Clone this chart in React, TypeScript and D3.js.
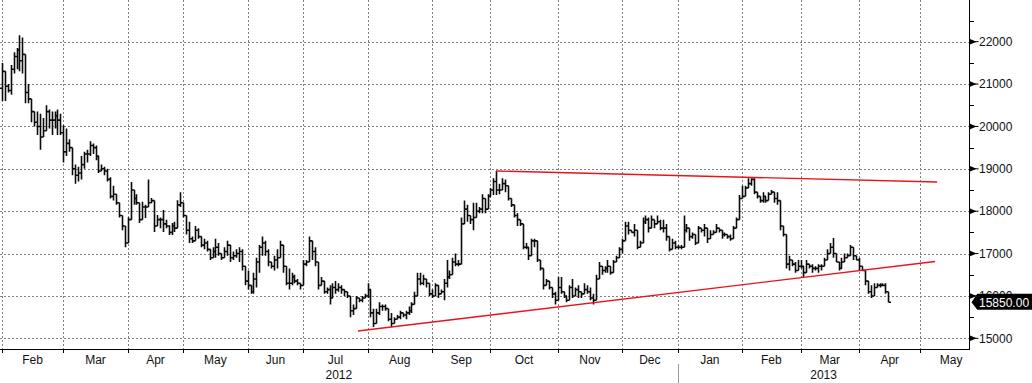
import React from "react";
import * as d3 from "d3";

// Daily bars, first trading day 2012-02-01 (London calendar)
const HIGHS = [
  21500,21150,21000,21450,21750,21850,22150,22100,21150,21000,20550,20200,20350,20300,20200,20500,20400,20350,20350,20400,20300,
  20030,19950,19700,19250,19100,19050,19300,19400,19450,19650,19600,19550,19300,19100,19050,19000,18800,18600,18350,18150,17800,17600,
  17860,18690,18440,18400,17860,18220,18150,18750,18310,18030,17910,17850,18030,17800,17670,17720,17750,18260,18450,
  18100,17900,17750,17400,17650,17600,17400,17350,17300,17050,17150,17350,17250,17000,17150,17300,17200,17050,17100,17150,17100,16700,
  16600,16250,16550,16900,17200,17400,17300,17100,16800,16950,17100,17300,17000,16650,16650,16550,16500,16400,16300,
  16850,16850,17400,17200,17150,16450,16450,16200,16200,16250,16300,16350,16300,16250,16150,16100,15950,15800,16000,15950,16000,16050,
  16300,15900,15700,15700,15850,15800,15800,15650,15600,15500,15550,15650,15600,15650,15750,15850,16100,16550,16550,16500,16400,16200,
  16150,16300,16200,16150,16400,16850,16600,16900,17000,16850,17850,18250,18150,17900,18200,18200,18100,18400,18300,18400,
  18550,18780,18950,18650,18780,18750,18350,18300,18100,17950,17750,17350,17250,17150,17350,17350,17000,16750,16450,16400,16300,16150,16100,
  16450,16450,16050,16000,16250,16400,16200,16250,16100,16300,16250,16200,16050,16500,16800,16700,16700,16850,16650,16850,16950,17150,
  17350,17750,17750,17550,17700,17300,17300,17850,17900,17850,17900,17800,17900,17800,17800,17700,17350,17350,
  17300,17200,17200,17900,17700,17500,17500,17400,17650,17600,17700,17500,17550,17550,17700,17600,17550,17500,17450,17450,17650,17850,
  18380,18600,18600,18780,18780,18780,18450,18300,18450,18350,18450,18500,18450,18450,18000,17550,17050,16950,16850,16800,
  16850,16850,16700,16850,16750,16750,16700,16750,16750,16900,17100,17250,17370,16850,16700,16900,17000,17000,17200,17150,
  16900,16900,16650,16600,16250,16250,16300,16300,16300,16300,16300,16050,
];
const LOWS = [
  20600,20600,20800,20750,21250,21350,21300,21250,20550,20550,20100,20000,19800,19450,19800,20050,19950,19800,19950,19800,19800,
  19150,19300,19400,18850,18650,18700,18750,19000,19150,19300,19350,19200,18900,18950,18850,18700,18300,18250,18150,17850,17550,17150,
  17270,18150,18150,18150,17720,17800,17840,18100,18190,17510,17670,17600,17510,17600,17440,17440,17510,17670,18100,
  17850,17450,17250,17250,17300,17350,17150,17100,17050,16850,16900,16900,16950,16850,16900,16950,16800,16850,16900,16800,16600,16250,
  16150,16050,16050,16200,16550,16950,16950,16700,16650,16600,16650,16900,16550,16250,16150,16250,16300,16250,16150,
  16600,16700,16800,16850,16700,16150,16250,16050,16050,15800,16100,16050,16100,16050,16000,15950,15500,15550,15850,15850,15850,15950,
  15950,15500,15270,15450,15550,15650,15650,15400,15270,15350,15450,15450,15500,15450,15550,15600,15850,16250,16250,16250,16200,16000,
  15950,16150,15950,16050,15900,16200,16400,16550,16700,16700,17000,17750,17750,17700,17550,17850,17950,17950,17950,18300,
  18400,18380,18380,18400,18500,18450,18250,18100,17850,17650,17650,17100,17100,16850,17100,17150,16800,16600,16150,16250,16150,15950,15800,
  15950,16050,15950,15850,16100,15950,16150,15950,15950,16050,16050,15900,15800,16150,16400,16500,16550,16550,16500,16600,16850,16950,
  17000,17500,17450,17500,17400,17100,17200,17600,17700,17500,17650,17600,17700,17550,17500,17300,17050,17200,
  17100,17100,17100,17500,17500,17300,17350,17200,17500,17500,17400,17250,17350,17450,17550,17500,17350,17400,17350,17300,17400,17600,
  17850,18300,18350,18600,18600,18400,18300,18200,18200,18200,18250,18400,18200,18150,17550,17400,16650,16600,16700,16550,
  16600,16650,16450,16600,16650,16550,16600,16550,16600,16800,16900,17000,16900,16800,16600,16750,16800,16900,17050,16850,
  16850,16600,16600,16250,16050,15950,16100,16200,16200,16250,16050,15850,
];
const CLOSES = [
  21300,20950,20850,21350,21650,21800,21550,21700,20800,20650,20350,20100,20000,19750,19900,20350,20150,20150,20250,20150,19850,
  19400,19600,19500,19000,18850,18900,19100,19350,19350,19550,19500,19300,18950,19000,18950,18750,18350,18400,18200,17900,17650,17250,
  17800,18500,18300,18200,17800,18100,18100,18200,18250,17650,17800,17800,17700,17650,17500,17650,17600,18150,18200,
  17900,17550,17350,17300,17550,17400,17200,17250,17100,16900,17050,17150,17000,16900,17050,17200,16900,16950,17000,17050,16700,16350,
  16250,16100,16400,16800,17150,17250,17050,16800,16700,16850,16900,17200,16700,16300,16300,16450,16350,16300,16250,
  16750,16800,17300,17050,16800,16250,16350,16100,16150,15950,16200,16150,16200,16150,16100,16000,15650,15700,15950,15900,15950,16000,
  16150,15600,15350,15600,15750,15750,15700,15450,15350,15450,15500,15600,15550,15600,15650,15800,16000,16400,16300,16400,16300,16050,
  16000,16250,16050,16100,16300,16450,16500,16800,16750,16750,17700,18050,17900,17800,17850,18000,18050,18300,18050,18350,
  18500,18700,18500,18500,18650,18600,18300,18150,17900,17800,17700,17150,17150,16950,17300,17300,16850,16650,16250,16350,16200,16050,15900,
  16200,16100,16000,15900,16200,16000,16150,16100,16050,16150,16100,15950,15900,16400,16700,16600,16650,16700,16550,16800,16900,17100,
  17300,17650,17550,17500,17550,17150,17250,17750,17800,17600,17800,17700,17750,17600,17600,17400,17100,17250,
  17150,17150,17150,17550,17600,17400,17450,17250,17600,17550,17600,17350,17450,17500,17600,17550,17450,17450,17400,17350,17600,17800,
  18300,18350,18550,18650,18750,18450,18350,18250,18350,18250,18400,18450,18300,18250,17650,17450,16750,16850,16750,16600,
  16700,16700,16550,16750,16700,16650,16650,16700,16700,16850,17000,17150,17000,16800,16650,16800,16900,16950,17150,16950,
  16850,16700,16600,16350,16100,16000,16200,16250,16250,16250,16100,15850,
];
const FIRST_OPEN = 20900;
const LAST_PRICE = 15850;

const Y_TICKS = [15000, 16000, 17000, 18000, 19000, 20000, 21000, 22000];
const Y_MINOR = [15500, 16500, 17500, 18500, 19500, 20500, 21500, 22500];
const MONTH_NAMES = ["Jan", "Feb", "Mar", "Apr", "May", "Jun", "Jul", "Aug", "Sep", "Oct", "Nov", "Dec"];
const UK_HOLIDAYS = [
  "2012-04-06", "2012-04-09", "2012-05-07", "2012-06-04", "2012-06-05", "2012-08-27",
  "2012-12-25", "2012-12-26", "2013-01-01", "2013-03-29", "2013-04-01", "2013-05-06", "2013-05-27",
];
// trend lines: [trading-day index, value] endpoints
const RESISTANCE = [[168.9, 18948], [319.7, 18689]];
const SUPPORT = [[121.7, 15172], [319.0, 16813]];

const W = 1032, H = 383;
const PLOT_R = 969.5, PLOT_B = 349;
const FONT = "'Liberation Sans', Arial, sans-serif";

function tradingDays(start: Date, end: Date): Date[] {
  const hol = new Set(UK_HOLIDAYS);
  const fmt = d3.timeFormat("%Y-%m-%d");
  const out: Date[] = [];
  for (let d = new Date(start); d <= end; d = d3.timeDay.offset(d, 1)) {
    const wd = d.getDay();
    if (wd === 0 || wd === 6) continue;
    if (hol.has(fmt(d))) continue;
    out.push(new Date(d));
  }
  return out;
}

export default function App() {
  const days = tradingDays(new Date(2012, 1, 1), new Date(2013, 6, 31));
  const x = d3.scaleLinear().domain([-0.65, 330.76]).range([0, PLOT_R]);
  const y = d3.scaleLinear().domain([14748, 22984]).range([PLOT_B, 0]);

  const bounds: { i: number; d: Date }[] = [];
  days.forEach((d, i) => {
    if (i === 0 || d.getMonth() !== days[i - 1].getMonth()) bounds.push({ i, d });
  });
  const visibleBounds = bounds.filter((b) => x(b.i) <= PLOT_R);

  let barPath = "";
  CLOSES.forEach((c, i) => {
    const o = i === 0 ? FIRST_OPEN : CLOSES[i - 1];
    const hi = Math.max(HIGHS[i], o, c);
    const lo = Math.min(LOWS[i], o, c);
    const bx = Math.round(x(i)) + 0.5;
    barPath += `M${bx},${y(hi)}V${y(lo)}`;
    barPath += `M${bx - 2.5},${y(o)}H${bx}`;
    barPath += `M${bx},${y(c)}H${bx + 2.5}`;
  });

  const line = d3.line<number[]>().x((p) => x(p[0])).y((p) => y(p[1]));

  const yearStart = bounds.find((b) => b.d.getFullYear() === 2013 && b.d.getMonth() === 0)!;
  const xYear = x(yearStart.i);
  const yLast = y(LAST_PRICE);

  return (
    <svg width={W} height={H} style={{ position: "absolute", left: 0, top: 0, background: "#fff" }} fontFamily={FONT}>
      <rect width={W} height={H} fill="#fff" />
      <g stroke="#808080" strokeWidth={1} strokeDasharray="2,2" shapeRendering="crispEdges">
        {Y_TICKS.map((t) => (
          <line key={t} x1={0} x2={PLOT_R} y1={Math.round(y(t)) + 0.5} y2={Math.round(y(t)) + 0.5} />
        ))}
        {visibleBounds.map((b) => (
          <line key={b.i} x1={Math.round(x(b.i)) + 0.5} x2={Math.round(x(b.i)) + 0.5} y1={0} y2={PLOT_B} />
        ))}
      </g>
      <path d={barPath} fill="none" stroke="#0a0a0a" strokeWidth={1.6} />
      <path d={line(RESISTANCE) || ""} fill="none" stroke="#e8141a" strokeWidth={1.4} />
      <path d={line(SUPPORT) || ""} fill="none" stroke="#e8141a" strokeWidth={1.4} />
      <g stroke="#000" strokeWidth={1} shapeRendering="crispEdges">
        <line x1={0} x2={PLOT_R} y1={PLOT_B + 0.5} y2={PLOT_B + 0.5} />
        <line x1={PLOT_R} x2={PLOT_R} y1={0} y2={PLOT_B + 1} />
        {visibleBounds.map((b) => (
          <line key={b.i} x1={Math.round(x(b.i)) + 0.5} x2={Math.round(x(b.i)) + 0.5} y1={PLOT_B} y2={PLOT_B + 4} />
        ))}
        {Y_MINOR.map((t) => (
          <line key={t} x1={PLOT_R} x2={PLOT_R + 4} y1={Math.round(y(t)) + 0.5} y2={Math.round(y(t)) + 0.5} />
        ))}
      </g>
      {Y_TICKS.map((t) => (
        <g key={t}>
          <path d={`M${PLOT_R},${y(t) - 3}L${PLOT_R + 7},${y(t)}L${PLOT_R},${y(t) + 3}Z`} fill="#000" />
          <line x1={PLOT_R} x2={PLOT_R + 9} y1={y(t)} y2={y(t)} stroke="#000" strokeWidth={1} />
          <text x={979} y={y(t)} dy="0.35em" fontSize={12} fill="#111">{t}</text>
        </g>
      ))}
      <path
        d={`M${PLOT_R + 2},${yLast}L${977.3},${yLast - 8.5}L${W},${yLast - 8.5}L${W},${yLast + 7.5}L${977.3},${yLast + 7.5}Z`}
        fill="#000"
      />
      <text x={979} y={yLast} dy="0.4em" fontSize={12} fill="#fff">{LAST_PRICE.toFixed(2)}</text>
      {visibleBounds.map((b) => {
        const k = bounds.indexOf(b);
        const next = bounds[k + 1];
        const cx = (x(b.i) + x(next ? next.i : b.i + 21)) / 2;
        return (
          <text key={b.i} x={cx} y={364} textAnchor="middle" fontSize={12} fill="#111">
            {MONTH_NAMES[b.d.getMonth()]}
          </text>
        );
      })}
      <text x={xYear / 2} y={379} textAnchor="middle" fontSize={12} fill="#111">2012</text>
      <text x={(xYear + PLOT_R) / 2} y={379} textAnchor="middle" fontSize={12} fill="#111">2013</text>
      <line x1={Math.round(xYear) + 0.5} x2={Math.round(xYear) + 0.5} y1={364} y2={H} stroke="#999" strokeWidth={1} />
    </svg>
  );
}
